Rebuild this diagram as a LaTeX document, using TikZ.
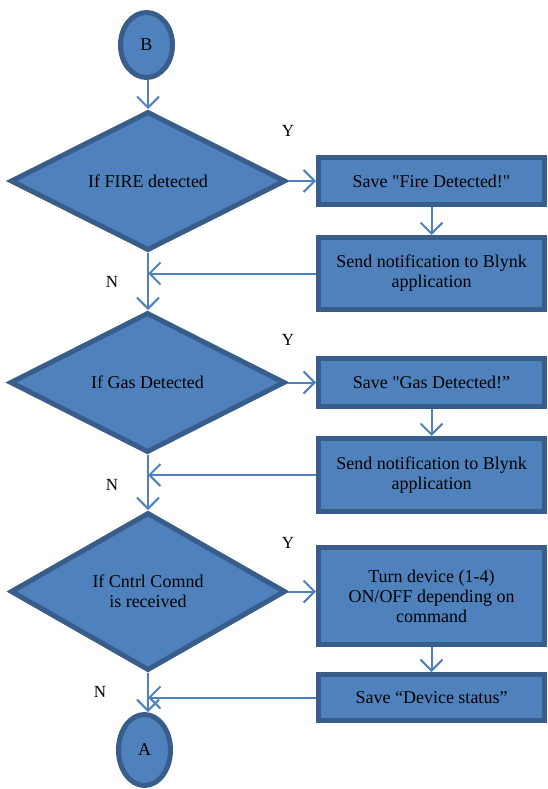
\documentclass[tikz,border=0pt]{standalone}
\usepackage{fontspec}
\setmainfont{Liberation Serif}
\usetikzlibrary{arrows.meta, positioning, calc, shapes.geometric}

\definecolor{shapefill}{HTML}{4F81BD}
\definecolor{shapeline}{HTML}{385D8A}
\definecolor{flowline}{HTML}{4F81BD}

\begin{document}
\begin{tikzpicture}[
    x=1pt, y=-1pt,
    font=\fontsize{18}{20}\selectfont,
    every node/.style={align=center},
    terminal/.style={ellipse, draw=shapeline, line width=5pt, fill=shapefill,
                     minimum width=52pt, inner sep=0pt},
    decision/.style={diamond, draw=shapeline, line width=5pt, fill=shapefill,
                     minimum width=275pt, inner sep=0pt},
    process/.style={rectangle, draw=shapeline, line width=5pt, fill=shapefill,
                    minimum width=226pt, inner sep=2pt},
    flow/.style={draw=flowline, line width=2pt,
                 -{Straight Barb[length=11pt, width=22pt]}},
    answer/.style={font=\fontsize{17}{19}\selectfont}
]

\useasboundingbox (0,0) rectangle (548,789);

% 1) Start connector and first decision.
\node[terminal, minimum height=65pt] (conB) at (146.5,45) {B};
\node[decision, minimum height=139pt] (fire) at (148,181) {If FIRE detected};

% 2) Fire branch.
\node[process, minimum height=47pt] (savefire) at (431.5,181)
   {Save \textquotedbl Fire Detected!\textquotedbl};
\node[process, minimum height=72pt] (notifyfire) at (431.5,273.5)
   {Send notification to Blynk\\application};

% 3) Gas decision and branch.
\node[decision, minimum height=140pt] (gas) at (147.5,382.5) {If Gas Detected};
\node[process, minimum height=48pt] (savegas) at (431.5,382.5)
   {Save \textquotedbl Gas Detected!”};
\node[process, minimum height=73pt] (notifygas) at (431.5,475)
   {Send notification to Blynk\\application};

% 4) Control command decision and branch.
\node[decision, minimum height=158pt] (cmd) at (148,591.5)
   {If Cntrl Comnd\\is received};
\node[process, minimum height=97pt] (turn) at (431.5,596)
   {Turn device (1-4)\\ON/OFF depending on\\command};
\node[process, minimum height=46pt] (status) at (431.5,697.5)
   {Save “Device status”};

% 5) End connector.
\node[terminal, minimum height=71pt] (conA) at (144.5,750) {A};

% Y / N labels.
\node[answer] (yfire) at (288,131) {Y};
\node[answer] (ygas) at (288,340) {Y};
\node[answer] (ycmd) at (288,543) {Y};
\node[answer] (nfire) at (112,282) {N};
\node[answer] (ngas) at (112,485) {N};
\node[answer] (ncmd) at (100,692) {N};

% Main trunk.
\draw[flow] (conB.south -| fire.north) -- (fire.north);
\draw[flow] (fire.south) -- (gas.north -| fire.south);
\draw[flow] (gas.south -| fire.south) -- (cmd.north);
\draw[flow] (cmd.south) -- (conA.north -| cmd.south);

% Yes branches.
\foreach \dec/\first/\second in {fire/savefire/notifyfire,
                                 gas/savegas/notifygas,
                                 cmd/turn/status} {
    \draw[flow] (\dec.east) -- (\first.west |- \dec.east);
    \draw[flow] (\first.south) -- (\second.north);
    \draw[flow] (\second.west) -- (\second.west -| fire.south);
}

\end{tikzpicture}
\end{document}
